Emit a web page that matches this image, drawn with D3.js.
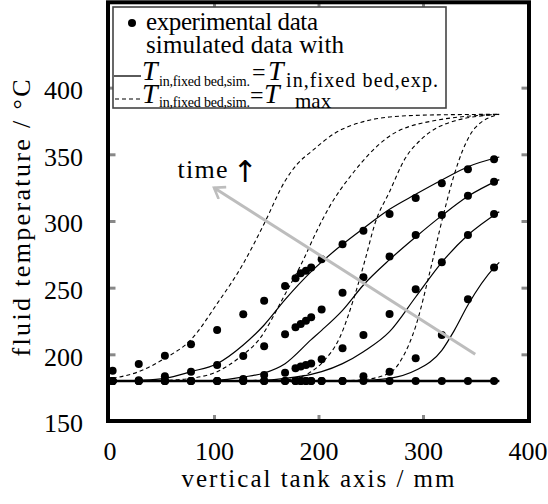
<!DOCTYPE html>
<html>
<head>
<meta charset="utf-8">
<script src="https://cdn.jsdelivr.net/npm/d3@7"></script>
<style>
  body { margin: 0; background: #fff; }
  svg { display: block; }
  text { font-family: "Liberation Serif", serif; fill: #000; }
</style>
</head>
<body>
<div id="chart"></div>
<script>
// 1. 실험 데이터 (mm / °C)
const expX = [3, 28, 53, 78, 103, 128, 148, 168, 178, 183, 188, 193, 203, 223, 243, 268, 293, 318, 343, 368];
const exp1 = [187.7, 192.7, 199, 207.5, 218.2, 230, 240.2, 251.2, 257, 260.8, 262.7, 265.2, 271.3, 282.5, 292.7, 305.2, 317.2, 328.3, 338.8, 346.3];
const exp2 = [180, 180.5, 183.5, 187, 192, 198.7, 206, 215, 220.3, 222.7, 225.2, 227.8, 233.7, 246.2, 257.8, 273.3, 289.5, 304.5, 319, 329.5];
const exp3 = [180, 180, 180, 180, 180, 181.5, 184.5, 186.2, 189.5, 190.8, 192, 193.2, 196.3, 204.5, 214.5, 230.2, 248.8, 269, 289.5, 305.2];
const exp4 = [180, 180, 180, 180, 180, 180, 180, 180, 180, 180, 180, 180, 180, 180, 183.5, 187, 197, 214.5, 241.3, 265.2];
const exp5 = [180, 180, 180, 180, 180, 180, 180, 180, 180, 180, 180, 180, 180, 180, 180, 180, 180, 180, 180, 180];

// 2. 시뮬레이션 (T_in = T_exp) - 실선
const simExp1 = [[3, 180], [28, 180.5], [53, 182], [78, 187], [103, 193], [128, 207], [148, 222], [168, 241], [193, 262], [223, 282.5], [243, 294.5], [268, 308.8], [293, 320], [318, 330.7], [343, 340.7], [373, 348]];
const simExp2 = [[3, 180], [78, 180], [103, 180.5], [128, 183], [148, 186], [168, 193], [193, 211], [203, 218], [223, 233], [243, 252], [268, 271], [293, 288], [318, 304], [343, 318.5], [373, 331]];
const simExp3 = [[3, 180], [128, 180], [148, 180.5], [168, 182], [193, 185], [203, 187], [223, 193], [243, 202], [268, 217], [293, 243], [318, 269], [343, 289.5], [373, 307]];
const simExp4 = [[3, 180], [218, 180], [243, 180.5], [268, 182], [293, 188], [318, 203], [330, 218], [343, 237], [368, 265], [373, 269]];
const simExp5 = [[3, 180], [373, 180]];

// 3. 시뮬레이션 (T_in = T_max) - 점선
const simMax1 = [[3, 182], [28, 187], [53, 197], [78, 211], [103, 238], [128, 268], [148, 298], [168, 330], [180, 343], [193, 352], [216, 366], [243, 374.5], [268, 378], [307, 379.5], [373, 380]];
const simMax2 = [[3, 180], [53, 180.5], [78, 182], [103, 187], [125, 198], [143, 211], [168, 245], [185, 270], [198, 292], [210, 310], [233, 336], [265, 362], [309, 375], [373, 380]];
const simMax3 = [[3, 180], [148, 180.5], [169, 181], [191, 186], [205, 195], [220, 212], [235, 245], [245, 272], [254, 298], [268, 322], [283, 347], [298, 361], [330, 375], [373, 380]];
const simMax4 = [[3, 180], [218, 180], [243, 181], [268, 186], [280, 197], [293, 221], [306, 260], [319, 303], [330, 335], [338, 353], [350, 370], [373, 380]];
const simMax5 = [[3, 180], [373, 180]];

// 4. 축 눈금
const xTickVals = [0, 100, 200, 300, 400];
const yTickVals = [150, 200, 250, 300, 350, 400];
const timeArrow = [[350, 200], [100, 325]];

const W = 548, H = 504;
const svg = d3.select("#chart").append("svg").attr("width", W).attr("height", H);

const x = d3.scaleLinear().domain([0, 400]).range([109.5, 527.5]);
const y = d3.scaleLinear().domain([150, 464]).range([421, 2.3]);

const line = d3.line().x(d => x(d[0])).y(d => y(d[1])).curve(d3.curveMonotoneX);

// 눈금 (안쪽 회색)
function styleTicks(g, ends) {
  g.select(".domain").remove();
  g.selectAll(".tick line").attr("stroke", "#888").attr("stroke-width", 3);
  g.selectAll(".tick").filter(d => ends.includes(d)).select("line").remove();
}
svg.append("g").attr("transform", `translate(0,${y(150)})`)
  .call(d3.axisBottom(x).tickValues(xTickVals).tickSize(-6).tickFormat(d3.format("d")))
  .call(g => styleTicks(g, [0, 400]))
  .call(g => g.selectAll("text").attr("dy", null).attr("y", 39).attr("font-size", 26)
    .style("font-family", "'Liberation Serif', serif"));
svg.append("g").attr("transform", `translate(0,${y(464)})`)
  .call(d3.axisTop(x).tickValues(xTickVals).tickSize(-7).tickFormat(""))
  .call(g => styleTicks(g, [0, 400]))
  .call(g => g.selectAll("text").remove());
svg.append("g").attr("transform", `translate(${x(0)},0)`)
  .call(d3.axisLeft(y).tickValues(yTickVals).tickSize(-6).tickFormat(d3.format("d")))
  .call(g => styleTicks(g, [150]))
  .call(g => g.selectAll("text").attr("x", -26.5).attr("dy", "0.42em").attr("font-size", 26)
    .attr("text-anchor", "end").style("font-family", "'Liberation Serif', serif"));
svg.append("g").attr("transform", `translate(${x(400)},0)`)
  .call(d3.axisRight(y).tickValues(yTickVals).tickSize(-6).tickFormat(""))
  .call(g => styleTicks(g, [150]))
  .call(g => g.selectAll("text").remove());

// 축 제목
svg.append("text").attr("x", 318).attr("y", 487).attr("text-anchor", "middle")
  .attr("font-size", 25).attr("textLength", 273).attr("lengthAdjust", "spacing")
  .text("vertical tank axis / mm");
svg.append("text").attr("transform", "translate(30,218) rotate(-90)").attr("text-anchor", "middle")
  .attr("font-size", 26).attr("textLength", 277).attr("lengthAdjust", "spacing")
  .text("fluid temperature / °C");

// 곡선
const plot = svg.append("g");
[simMax1, simMax2, simMax3, simMax4, simMax5].forEach(c => {
  plot.append("path").attr("d", line(c)).attr("fill", "none")
    .attr("stroke", "#000").attr("stroke-width", 1.1).attr("stroke-dasharray", "4,3");
});
[simExp1, simExp2, simExp3, simExp4].forEach(c => {
  plot.append("path").attr("d", line(c)).attr("fill", "none")
    .attr("stroke", "#000").attr("stroke-width", 1.2);
});
plot.append("path").attr("d", line(simExp5)).attr("fill", "none")
  .attr("stroke", "#000").attr("stroke-width", 2.6);

// 시간 화살표
svg.append("defs").append("marker").attr("id", "head")
  .attr("viewBox", "-12 -8 14 16").attr("markerWidth", 14).attr("markerHeight", 16)
  .attr("markerUnits", "userSpaceOnUse").attr("orient", "auto")
  .append("path").attr("d", "M-10,-7 L0,0 L-10,7").attr("fill", "none")
  .attr("stroke", "#bdbdbd").attr("stroke-width", 2.6);
svg.append("line")
  .attr("x1", x(timeArrow[0][0])).attr("y1", y(timeArrow[0][1]))
  .attr("x2", x(timeArrow[1][0])).attr("y2", y(timeArrow[1][1]))
  .attr("stroke", "#bdbdbd").attr("stroke-width", 3).attr("marker-end", "url(#head)");
const tl = svg.append("text").attr("x", x(65)).attr("y", y(332)).attr("font-size", 26);
tl.append("tspan").attr("textLength", 50).attr("lengthAdjust", "spacing").text("time");
tl.append("tspan").attr("x", x(65) + 55).attr("dy", 4).attr("font-size", 30)
  .style("font-family", "'DejaVu Sans ExtraLight', 'DejaVu Sans'").style("fill", "#000").text("↑");

// 실험 점
[exp1, exp2, exp3, exp4, exp5].forEach(s => {
  plot.append("g").selectAll("circle").data(s).join("circle")
    .attr("cx", (d, i) => x(expX[i])).attr("cy", d => y(d)).attr("r", 4).attr("fill", "#000");
});

// 테두리
svg.append("rect").attr("x", x(0) - 1.5).attr("y", y(464)).attr("width", x(400) - x(0) + 3)
  .attr("height", y(150) - y(464)).attr("fill", "none").attr("stroke", "#000").attr("stroke-width", 4);

// 범례
const lg = svg.append("g");
lg.append("rect").attr("x", 113).attr("y", 7).attr("width", 333).attr("height", 101)
  .attr("fill", "#fff").attr("stroke", "#444").attr("stroke-width", 1.6);
lg.append("circle").attr("cx", 132).attr("cy", 23).attr("r", 4).attr("fill", "#000");
lg.append("text").attr("x", 146).attr("y", 30).attr("font-size", 25)
  .attr("textLength", 172).attr("lengthAdjust", "spacing").text("experimental data");
lg.append("text").attr("x", 146).attr("y", 53).attr("font-size", 25)
  .attr("textLength", 198).attr("lengthAdjust", "spacing").text("simulated data with");
lg.append("line").attr("x1", 114).attr("x2", 141).attr("y1", 76).attr("y2", 76)
  .attr("stroke", "#000").attr("stroke-width", 1.3);
lg.append("line").attr("x1", 115).attr("x2", 141).attr("y1", 99).attr("y2", 99)
  .attr("stroke", "#000").attr("stroke-width", 1.2).attr("stroke-dasharray", "4,3");

// 범례 수식: 한 줄 = 하나의 text
const l3 = lg.append("text").attr("x", 142).attr("y", 80).attr("font-size", 24);
l3.append("tspan").attr("font-style", "italic").attr("font-size", 28).text("T");
l3.append("tspan").attr("x", 159).attr("dy", 6).attr("font-size", 14)
  .attr("textLength", 91).attr("lengthAdjust", "spacing").text("in,fixed  bed,sim.");
l3.append("tspan").attr("x", 252).attr("dy", -6).text("=");
l3.append("tspan").attr("x", 268).attr("font-style", "italic").attr("font-size", 28).text("T");
l3.append("tspan").attr("x", 286).attr("dy", 7).attr("font-size", 20)
  .attr("textLength", 152).attr("lengthAdjust", "spacing").text("in,fixed  bed,exp.");

const l4 = lg.append("text").attr("x", 142).attr("y", 103).attr("font-size", 24);
l4.append("tspan").attr("font-style", "italic").attr("font-size", 28).text("T");
l4.append("tspan").attr("x", 159).attr("dy", 4).attr("font-size", 14)
  .attr("textLength", 91).attr("lengthAdjust", "spacing").text("in,fixed  bed,sim.");
l4.append("tspan").attr("x", 250).attr("dy", -4).text("=");
l4.append("tspan").attr("x", 264).attr("font-style", "italic").attr("font-size", 28).text("T");
l4.append("tspan").attr("x", 295).attr("dy", 5).attr("font-size", 21).text("max");
</script>
</body>
</html>
